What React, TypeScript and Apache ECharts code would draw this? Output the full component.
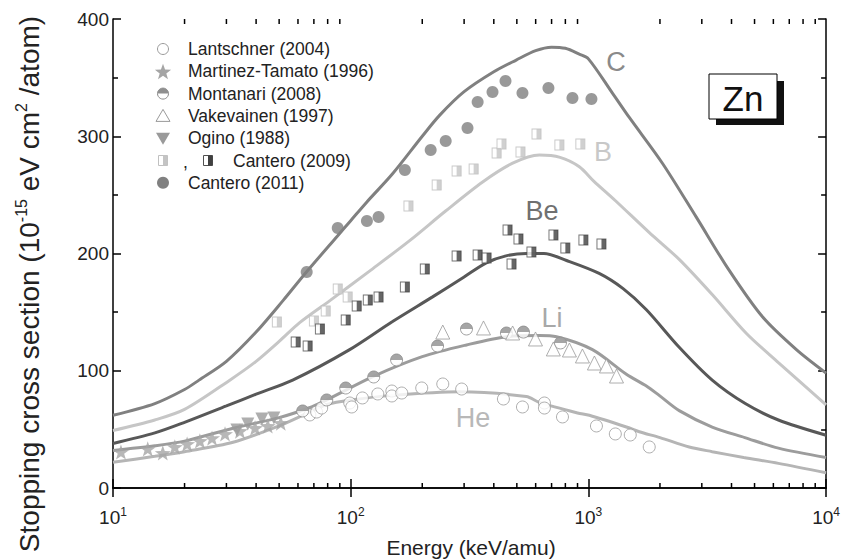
import React, { useEffect, useRef } from 'react';
import * as echarts from 'echarts';

// ---------- theory curves (energy keV/amu, stopping cross section) ----------
const cCurveE = [10, 15, 20, 23, 30, 40, 52, 65, 88, 100, 117, 150, 200, 237, 300, 400, 497, 600, 700, 800, 916, 1000, 1260, 1486, 2048, 2844, 3900, 5400, 7500, 10000];
const cCurveS = [62, 72, 84, 92, 108, 133, 160, 184, 215, 228, 244, 268, 300, 318, 338, 355, 365, 373, 376, 375, 370, 366, 337, 316, 277, 231, 186, 146, 118, 98];

const bCurveE = [10, 15, 20, 31, 40, 50, 61, 82, 120, 177, 250, 359, 480, 622, 760, 916, 1050, 1300, 1800, 2410, 3318, 4613, 6300, 10000];
const bCurveS = [49, 58, 67, 92, 108, 125, 141, 160, 185, 211, 236, 261, 277, 284, 282, 274, 262, 245, 218, 195, 165, 132, 107, 71];

const beCurveE = [10, 15, 20, 30, 40, 57, 99, 150, 221, 300, 372, 450, 548, 650, 809, 1110, 1400, 1754, 2410, 3318, 4570, 6300, 10000];
const beCurveS = [38, 47, 56, 70, 80, 92, 118, 142, 163, 180, 192, 198, 200, 200, 194, 183, 170, 152, 120, 92, 72, 58, 45];

const liCurveE = [10, 15, 20, 32, 50, 66, 79, 124, 200, 307, 452, 622, 734, 1040, 1445, 1754, 1985, 2410, 3318, 4550, 6300, 10000];
const liCurveS = [32, 36, 40, 51, 60, 68, 75, 95, 112, 122, 129, 130, 129, 118, 97, 87, 79, 66, 52, 43, 34, 26];

const heCurveE = [10, 15, 20, 32, 50, 66, 79, 100, 150, 287, 548, 622, 900, 1009, 1445, 1637, 2000, 2655, 3318, 4500, 6300, 10000];
const heCurveS = [22, 27, 31, 39, 53, 64, 71, 75, 79, 82, 78, 73, 64, 62, 52, 48, 43, 35, 31, 26, 21, 13];

// ---------- experimental data ----------
const lantschnerE = [67.3, 71.9, 75.5, 99.1, 101, 112, 130, 149, 149, 164, 199, 244, 293, 439, 528, 653, 653, 778, 1081, 1298, 1500, 1803];
const lantschnerS = [62.3, 64.8, 68.2, 72.5, 69.1, 76.8, 80.2, 82.7, 78.5, 81.0, 85.3, 88.7, 84.4, 75.9, 69.1, 72.5, 68.2, 60.6, 52.9, 46.1, 45.2, 35.0];

const martinezE = [10.8, 14.0, 16.2, 18.2, 20.5, 23.2, 26.1, 29.6, 34.2, 39.6, 44.8, 50.8];
const martinezS = [30.7, 33.3, 29.9, 35.0, 37.5, 40.1, 42.6, 46.1, 48.6, 51.2, 52.9, 55.4];

const montanariE = [62.8, 79.3, 95.3, 125, 156, 232, 307, 452, 533, 763];
const montanariS = [65.7, 75.1, 85.3, 94.7, 109.2, 121.1, 135.6, 132.2, 133.0, 123.7];

const vakevainenE = [244, 362, 480, 599, 712, 832, 944, 1060, 1191, 1313];
const vakevainenS = [133.0, 136.5, 132.2, 127.1, 118.6, 117.7, 112.6, 106.6, 104.1, 95.5];

const oginoE = [33.2, 36.9, 42.3, 47.5];
const oginoS = [49.5, 54.6, 58.8, 59.7];

const cantero09BE = [48.9, 70.0, 78.5, 88.2, 97.1, 175, 230, 279, 329, 411, 431, 518, 605, 755, 925];
const cantero09BS = [141.6, 142.4, 151.0, 169.7, 162.9, 240.5, 258.4, 270.4, 272.1, 285.7, 293.4, 286.6, 301.9, 292.5, 293.4];

const cantero09BeE = [58.7, 65.9, 74.2, 95.3, 106, 118, 131, 169, 205, 279, 342, 373, 457, 475, 508, 576, 713, 800, 953, 1135];
const cantero09BeS = [124.5, 121.1, 135.6, 143.3, 155.2, 160.3, 162.9, 171.4, 186.8, 197.9, 198.7, 196.2, 220.0, 191.0, 212.4, 201.3, 215.8, 204.7, 211.5, 208.1];

const cantero11E = [65.3, 88.2, 117, 131, 169, 217, 251, 310, 342, 395, 448, 528, 679, 857, 1030];
const cantero11S = [184.2, 221.7, 227.7, 231.1, 271.2, 288.3, 295.9, 307.0, 329.2, 337.7, 347.1, 336.9, 341.2, 332.6, 331.8];

// ---------- axes ----------
const xMinorTicks = [20, 30, 40, 50, 60, 70, 80, 90, 200, 300, 400, 500, 600, 700, 800, 900, 2000, 3000, 4000, 5000, 6000, 7000, 8000, 9000];
const yTickValues = [0, 100, 200, 300, 400];

const legendNames = ['Lantschner (2004)', 'Martinez-Tamato (1996)', 'Montanari (2008)', 'Vakevainen (1997)', 'Ogino (1988)', 'Cantero (2009)', 'Cantero (2011)'];

const FONT = '"Liberation Sans", Arial, Helvetica, sans-serif';
const TICK = '#000';

function pairs(e: number[], s: number[]) {
  return e.map((v, i) => [v, s[i]]);
}

function starPoints(cx: number, cy: number, ro: number, ri: number) {
  const pts: number[][] = [];
  for (let k = 0; k < 10; k++) {
    const a = (-90 + 36 * k) * Math.PI / 180;
    const r = k % 2 === 0 ? ro : ri;
    pts.push([cx + r * Math.cos(a), cy + r * Math.sin(a)]);
  }
  return pts;
}

const starPath = 'path://' + starPoints(50, 50, 50, 20).map((p, i) => (i === 0 ? 'M' : 'L') + p[0].toFixed(2) + ',' + p[1].toFixed(2)).join(' ') + ' Z';
const halfPath = 'path://M0,10 C0,4.477 4.477,0 10,0 C15.523,0 20,4.477 20,10 Z';

export default function App() {
  const ref = useRef<HTMLDivElement>(null);

  useEffect(() => {
    if (!ref.current) return;
    const chart = echarts.init(ref.current, null, { renderer: 'svg' });

    const lineSeries = (data: number[][], color: string) => ({
      type: 'line',
      data,
      symbol: 'none',
      smooth: 0.3,
      lineStyle: { color, width: 3 },
      z: 2,
      silent: true,
    });

    const yAxisBase = {
      type: 'value',
      min: 0,
      max: 400,
      interval: 100,
      axisLine: { show: true, lineStyle: { color: '#000', width: 1.5 } },
      axisTick: { show: true, inside: true, length: 8, lineStyle: { color: TICK, width: 1.5 } },
      minorTick: { show: true, splitNumber: 2, length: 5, lineStyle: { color: TICK, width: 1.5 } },
      splitLine: { show: false },
    };
    const xAxisBase = {
      type: 'log',
      logBase: 10,
      min: 10,
      max: 10000,
      axisLine: { show: true, lineStyle: { color: '#000', width: 1.5 } },
      axisTick: { show: true, inside: true, length: 9, lineStyle: { color: TICK, width: 1.5 } },
      splitLine: { show: false },
    };

    const row0 = 49;
    const rowStep = 22.3;
    const iconX = 163;
    const textX = 188;
    const legendGraphics: any[] = [];
    const txt = (x: number, y: number, t: string) => ({
      type: 'text', x, y,
      style: { text: t, fontSize: 17.5, fontFamily: FONT, fill: '#222', align: 'left', verticalAlign: 'middle' },
    });
    legendGraphics.push({ type: 'circle', shape: { cx: iconX, cy: row0, r: 5.5 }, style: { fill: '#fff', stroke: '#9a9a9a', lineWidth: 1 } });
    legendGraphics.push({ type: 'polygon', shape: { points: starPoints(iconX, row0 + rowStep + 1, 8.5, 3.5) }, style: { fill: '#a5a5a5' } });
    legendGraphics.push({ type: 'circle', shape: { cx: iconX, cy: row0 + 2 * rowStep, r: 5.5 }, style: { fill: '#fff', stroke: '#8a8a8a', lineWidth: 1 } });
    legendGraphics.push({ type: 'sector', shape: { cx: iconX, cy: row0 + 2 * rowStep, r: 5.5, r0: 0, startAngle: Math.PI, endAngle: 2 * Math.PI }, style: { fill: '#8f8f8f' } });
    {
      const cy = row0 + 3 * rowStep;
      legendGraphics.push({ type: 'polygon', shape: { points: [[iconX, cy - 6.5], [iconX + 7, cy + 5.5], [iconX - 7, cy + 5.5]] }, style: { fill: '#fff', stroke: '#9a9a9a', lineWidth: 1 } });
    }
    {
      const cy = row0 + 4 * rowStep;
      legendGraphics.push({ type: 'polygon', shape: { points: [[iconX - 7, cy - 5.5], [iconX + 7, cy - 5.5], [iconX, cy + 6.5]] }, style: { fill: '#9a9a9a' } });
    }
    {
      const cy = row0 + 5 * rowStep;
      legendGraphics.push({ type: 'rect', shape: { x: iconX - 4.5, y: cy - 5, width: 9, height: 10 }, style: { fill: '#fff', stroke: '#c0c0c0', lineWidth: 1 } });
      legendGraphics.push({ type: 'rect', shape: { x: iconX, y: cy - 5, width: 4.5, height: 10 }, style: { fill: '#c4c4c4' } });
      legendGraphics.push(txt(183, cy + 1, ','));
      legendGraphics.push({ type: 'rect', shape: { x: 208 - 4.5, y: cy - 5, width: 9, height: 10 }, style: { fill: '#fff', stroke: '#505050', lineWidth: 1 } });
      legendGraphics.push({ type: 'rect', shape: { x: 208, y: cy - 5, width: 4.5, height: 10 }, style: { fill: '#404040' } });
    }
    legendGraphics.push({ type: 'circle', shape: { cx: iconX, cy: row0 + 6 * rowStep, r: 6 }, style: { fill: '#808080' } });
    legendNames.forEach((n, i) => {
      legendGraphics.push(txt(i === 5 ? 233 : textX, row0 + i * rowStep, n));
    });

    const curveLabel = (x: number, y: number, t: string, color: string) => ({
      type: 'text', x, y,
      style: { text: t, fontSize: 27, fontFamily: FONT, fill: color, align: 'center', verticalAlign: 'middle' },
      z: 10,
    });

    const option: any = {
      animation: false,
      backgroundColor: '#fff',
      grid: { left: 113, right: 16, top: 19, bottom: 72, containLabel: false },
      xAxis: [
        {
          ...xAxisBase,
          position: 'bottom',
          axisLabel: {
            show: true,
            margin: 18,
            color: '#222',
            fontFamily: FONT,
            formatter: (v: number) => '{b|10}{s|' + Math.round(Math.log10(v)) + '}',
            rich: {
              b: { fontSize: 19, fontFamily: FONT, color: '#222', lineHeight: 22 },
              s: { fontSize: 12, fontFamily: FONT, color: '#222', verticalAlign: 'top', lineHeight: 22, padding: [0, 0, 8, 0] },
            },
          },
        },
        { ...xAxisBase, position: 'top', axisLabel: { show: false } },
      ],
      yAxis: [
        {
          ...yAxisBase,
          position: 'left',
          axisLabel: { show: true, margin: 4, fontSize: 19, fontFamily: FONT, color: '#222',
            formatter: (v: number) => (yTickValues.includes(v) ? String(v) : '') },
        },
        { ...yAxisBase, position: 'right', axisLabel: { show: false } },
      ],
      graphic: [
        ...legendGraphics,
        curveLabel(616, 62, 'C', '#8a8a8a'),
        curveLabel(603, 152, 'B', '#c8c8c8'),
        curveLabel(542, 211, 'Be', '#707070'),
        curveLabel(552, 318, 'Li', '#a8a8a8'),
        curveLabel(473, 418, 'He', '#b8b8b8'),
        { type: 'rect', shape: { x: 716, y: 81, width: 68, height: 44 }, style: { fill: '#111' }, z: 10 },
        { type: 'rect', shape: { x: 709, y: 74, width: 68, height: 45 }, style: { fill: '#fff', stroke: '#000', lineWidth: 1 }, z: 11 },
        { type: 'text', x: 743, y: 98, z: 12, style: { text: 'Zn', fontSize: 35, fontFamily: FONT, fill: '#111', align: 'center', verticalAlign: 'middle' } },
        { type: 'text', x: 471, y: 547, style: { text: 'Energy (keV/amu)', fontSize: 21, fontFamily: FONT, fill: '#222', align: 'center', verticalAlign: 'middle' } },
        {
          type: 'text', x: 29, y: 284, rotation: Math.PI / 2,
          style: {
            text: '{t|Stopping cross section (10}{s|-15}{t| eV cm}{s|2}{t| /atom)}',
            align: 'center', verticalAlign: 'middle', fill: '#222',
            rich: {
              t: { fontSize: 28, fontFamily: FONT, fill: '#222', lineHeight: 32 },
              s: { fontSize: 16, fontFamily: FONT, fill: '#222', verticalAlign: 'top', lineHeight: 32 },
            },
          },
        },
      ],
      series: [
        lineSeries(pairs(heCurveE, heCurveS), '#b5b5b5'),
        lineSeries(pairs(liCurveE, liCurveS), '#9c9c9c'),
        lineSeries(pairs(beCurveE, beCurveS), '#585858'),
        lineSeries(pairs(bCurveE, bCurveS), '#c6c6c6'),
        lineSeries(pairs(cCurveE, cCurveS), '#808080'),
        {
          type: 'custom',
          data: xMinorTicks.map((v) => [v, 0]),
          encode: { x: 0, y: 1 },
          clip: false,
          silent: true,
          z: 6,
          renderItem: (_p: any, api: any) => {
            const v = api.value(0);
            const b = api.coord([v, 0]);
            const t = api.coord([v, 400]);
            return {
              type: 'group',
              children: [
                { type: 'line', shape: { x1: b[0], y1: b[1], x2: b[0], y2: b[1] - 5 }, style: { stroke: TICK, lineWidth: 1.5 } },
                { type: 'line', shape: { x1: t[0], y1: t[1], x2: t[0], y2: t[1] + 5 }, style: { stroke: TICK, lineWidth: 1.5 } },
              ],
            };
          },
        },
        { type: 'scatter', name: legendNames[1], data: pairs(martinezE, martinezS), symbol: starPath, symbolKeepAspect: true, symbolSize: 16, itemStyle: { color: '#a5a5a5' }, z: 4 },
        { type: 'scatter', name: legendNames[4], data: pairs(oginoE, oginoS), symbol: 'triangle', symbolRotate: 180, symbolSize: 13, itemStyle: { color: '#9a9a9a' }, z: 4 },
        { type: 'scatter', name: legendNames[0], data: pairs(lantschnerE, lantschnerS), symbol: 'circle', symbolSize: 12, itemStyle: { color: '#fff', borderColor: '#9a9a9a', borderWidth: 1 }, z: 4 },
        { type: 'scatter', name: legendNames[2], data: pairs(montanariE, montanariS), symbol: 'circle', symbolSize: 12, itemStyle: { color: '#fff', borderColor: '#8a8a8a', borderWidth: 1 }, z: 4 },
        { type: 'scatter', name: legendNames[2] + ' top', data: pairs(montanariE, montanariS), symbol: halfPath, symbolSize: [12, 6], symbolOffset: [0, -3], itemStyle: { color: '#8f8f8f' }, z: 4 },
        { type: 'scatter', name: legendNames[3], data: pairs(vakevainenE, vakevainenS), symbol: 'triangle', symbolSize: 14, itemStyle: { color: '#fff', borderColor: '#9a9a9a', borderWidth: 1 }, z: 4 },
        { type: 'scatter', name: legendNames[5] + ' B', data: pairs(cantero09BE, cantero09BS), symbol: 'rect', symbolSize: [9, 10], itemStyle: { color: '#fff', borderColor: '#bcbcbc', borderWidth: 1 }, z: 4 },
        { type: 'scatter', name: legendNames[5] + ' B fill', data: pairs(cantero09BE, cantero09BS), symbol: 'rect', symbolSize: [4.5, 10], symbolOffset: [2.25, 0], itemStyle: { color: '#c4c4c4' }, z: 4 },
        { type: 'scatter', name: legendNames[5] + ' Be', data: pairs(cantero09BeE, cantero09BeS), symbol: 'rect', symbolSize: [9, 10], itemStyle: { color: '#fff', borderColor: '#505050', borderWidth: 1 }, z: 4 },
        { type: 'scatter', name: legendNames[5] + ' Be fill', data: pairs(cantero09BeE, cantero09BeS), symbol: 'rect', symbolSize: [4.5, 10], symbolOffset: [2.25, 0], itemStyle: { color: '#404040' }, z: 4 },
        { type: 'scatter', name: legendNames[6], data: pairs(cantero11E, cantero11S), symbol: 'circle', symbolSize: 12, itemStyle: { color: '#808080' }, z: 4 },
      ],
    };

    chart.setOption(option);
    return () => chart.dispose();
  }, []);

  return (
    <div
      ref={ref}
      style={{ position: 'absolute', left: 0, top: 0, width: 843, height: 560, background: '#fff' }}
    />
  );
}
